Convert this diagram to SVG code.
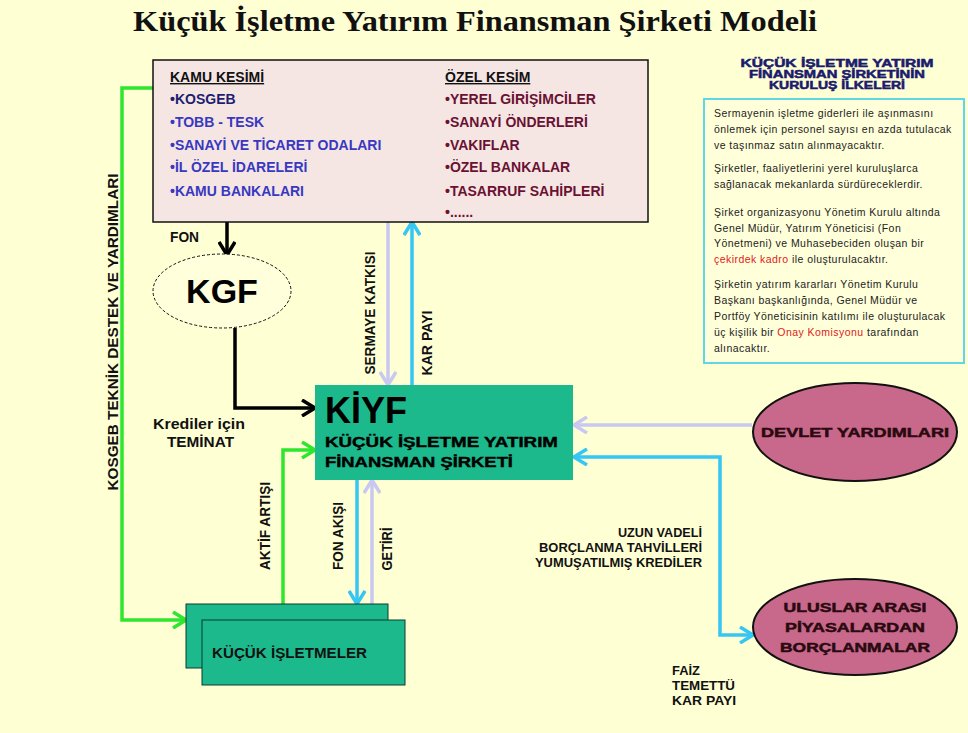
<svg xmlns="http://www.w3.org/2000/svg" width="968" height="733" viewBox="0 0 968 733">
<defs>
<style>
.b{font-family:"Liberation Sans",Arial,sans-serif;font-weight:bold}
.hv{font-family:"Liberation Sans",Arial,sans-serif;font-weight:900;stroke-width:0.5}
.lbl{font-family:"Liberation Sans",Arial,sans-serif;font-weight:bold;font-size:15px;fill:#111}
.stk{font-size:13px}
.box{font-family:"Liberation Sans",Arial,sans-serif;font-weight:bold;font-size:14px}
.kamu{fill:#3838C0}
.ozel{fill:#6A1232}
.pr{font-family:"Liberation Sans",Arial,sans-serif;font-size:10.5px;letter-spacing:0.45px;fill:#222}
.red{fill:#E02020}
.teal{fill:#1CB98C;stroke:#0B3B2C;stroke-width:1}
.oval{fill:#C8688A;stroke:#111;stroke-width:2}
.ln{fill:none;stroke-width:3.5;stroke-linejoin:miter}
.k{stroke:#000}
.lav{stroke:#C8C8F2}
.cy{stroke:#35C6F4}
.gr{stroke:#2EE62E}
</style>
<marker id="mk" viewBox="0 0 16 18" refX="15" refY="9" markerWidth="16" markerHeight="18" markerUnits="userSpaceOnUse" orient="auto-start-reverse"><path d="M2,1 L15,9 L2,17" fill="none" stroke="#000" stroke-width="3.5"/></marker>
<marker id="ml" viewBox="0 0 16 18" refX="15" refY="9" markerWidth="16" markerHeight="18" markerUnits="userSpaceOnUse" orient="auto-start-reverse"><path d="M2,1 L15,9 L2,17" fill="none" stroke="#C8C8F2" stroke-width="3.5"/></marker>
<marker id="mc" viewBox="0 0 16 18" refX="15" refY="9" markerWidth="16" markerHeight="18" markerUnits="userSpaceOnUse" orient="auto-start-reverse"><path d="M2,1 L15,9 L2,17" fill="none" stroke="#35C6F4" stroke-width="3.5"/></marker>
<marker id="mg" viewBox="0 0 16 18" refX="15" refY="9" markerWidth="16" markerHeight="18" markerUnits="userSpaceOnUse" orient="auto-start-reverse"><path d="M2,1 L15,9 L2,17" fill="none" stroke="#2EE62E" stroke-width="3.5"/></marker>
</defs>
<rect x="0" y="0" width="968" height="733" fill="#FFFFD4"/>

<text x="475" y="31" text-anchor="middle" font-family="'Liberation Serif','Times New Roman',serif" font-weight="bold" font-size="30" fill="#111" textLength="684" lengthAdjust="spacingAndGlyphs">Küçük İşletme Yatırım Finansman Şirketi Modeli</text>

<g id="connectors">
<path class="ln gr" d="M153,88 H122 V620 H186" marker-end="url(#mg)"/>
<path class="ln gr" d="M283,604 V450 H315" marker-end="url(#mg)"/>
<path class="ln k" d="M227,222 V255" marker-end="url(#mk)"/>
<path class="ln k" d="M235,328 V408 H315" marker-end="url(#mk)"/>
<path class="ln lav" d="M388,222 V385" marker-end="url(#ml)"/>
<path class="ln cy" d="M412,385 V222" marker-end="url(#mc)"/>
<path class="ln cy" d="M357,480 V604" marker-end="url(#mc)"/>
<path class="ln lav" d="M372,604 V480" marker-end="url(#ml)"/>
<path class="ln lav" d="M752,425 H574" marker-end="url(#ml)"/>
<path class="ln cy" d="M574,457 H720 V635 H753" marker-start="url(#mc)" marker-end="url(#mc)"/>
<text class="lbl" x="170" y="242" font-size="13" textLength="29" lengthAdjust="spacingAndGlyphs">FON</text>
<text class="lbl" x="153" y="429" font-size="14" textLength="92" lengthAdjust="spacingAndGlyphs">Krediler için</text>
<text class="lbl" x="167" y="447" font-size="14" textLength="67" lengthAdjust="spacingAndGlyphs">TEMİNAT</text>
<text class="lbl" text-anchor="middle" transform="translate(118,332) rotate(-90)" textLength="317" lengthAdjust="spacingAndGlyphs">KOSGEB TEKNİK DESTEK VE YARDIMLARI</text>
<text class="lbl" text-anchor="middle" transform="translate(375,313) rotate(-90)" textLength="123" lengthAdjust="spacingAndGlyphs">SERMAYE KATKISI</text>
<text class="lbl" text-anchor="middle" transform="translate(432,343) rotate(-90)" textLength="65" lengthAdjust="spacingAndGlyphs">KAR PAYI</text>
<text class="lbl" text-anchor="middle" transform="translate(270,526) rotate(-90)" textLength="88" lengthAdjust="spacingAndGlyphs">AKTİF ARTIŞI</text>
<text class="lbl" text-anchor="middle" transform="translate(343,536) rotate(-90)" textLength="68" lengthAdjust="spacingAndGlyphs">FON AKIŞI</text>
<text class="lbl" text-anchor="middle" transform="translate(392,549) rotate(-90)" textLength="43" lengthAdjust="spacingAndGlyphs">GETİRİ</text>
<text class="lbl stk" text-anchor="end" x="702" y="537" textLength="84" lengthAdjust="spacingAndGlyphs">UZUN VADELİ</text>
<text class="lbl stk" text-anchor="end" x="702" y="552" textLength="163" lengthAdjust="spacingAndGlyphs">BORÇLANMA TAHVİLLERİ</text>
<text class="lbl stk" text-anchor="end" x="702" y="567" textLength="167" lengthAdjust="spacingAndGlyphs">YUMUŞATILMIŞ KREDİLER</text>
<text class="lbl stk" x="672" y="675" textLength="28" lengthAdjust="spacingAndGlyphs">FAİZ</text>
<text class="lbl stk" x="672" y="690" textLength="63" lengthAdjust="spacingAndGlyphs">TEMETTÜ</text>
<text class="lbl stk" x="672" y="705" textLength="64" lengthAdjust="spacingAndGlyphs">KAR PAYI</text>
</g>

<g id="kesimler">
<rect x="153" y="60" width="495" height="162" fill="#F5E6E4" stroke="#111" stroke-width="1.5"/>
<text class="box" x="170" y="82" fill="#111" text-decoration="underline">KAMU KESİMİ</text>
<text class="box" x="170" y="104" fill="#1E1E70">•KOSGEB</text>
<text class="box kamu" x="170" y="127">•TOBB - TESK</text>
<text class="box kamu" x="170" y="150">•SANAYİ VE TİCARET ODALARI</text>
<text class="box kamu" x="170" y="172">•İL ÖZEL İDARELERİ</text>
<text class="box kamu" x="170" y="196">•KAMU BANKALARI</text>
<text class="box" x="445" y="82" fill="#111" text-decoration="underline">ÖZEL KESİM</text>
<text class="box ozel" x="445" y="104">•YEREL GİRİŞİMCİLER</text>
<text class="box ozel" x="445" y="127">•SANAYİ ÖNDERLERİ</text>
<text class="box ozel" x="445" y="150">•VAKIFLAR</text>
<text class="box ozel" x="445" y="172">•ÖZEL BANKALAR</text>
<text class="box ozel" x="445" y="196">•TASARRUF SAHİPLERİ</text>
<text class="box ozel" x="445" y="217">•......</text>
</g>

<g id="kgf">
<ellipse cx="222" cy="291" rx="69" ry="37" fill="#FFFFDC" stroke="#111" stroke-width="1" stroke-dasharray="3,2"/>
<text class="b" x="222" y="303" text-anchor="middle" font-size="34" fill="#000">KGF</text>
</g>

<g id="kiyf">
<rect x="315" y="385" width="258" height="95" fill="#1CB98C"/>
<text class="b" x="325" y="423" font-size="36" fill="#000">KİYF</text>
<text class="b" x="325" y="447" font-size="14" fill="#000" stroke="#000" stroke-width="0.4" textLength="233" lengthAdjust="spacingAndGlyphs">KÜÇÜK İŞLETME YATIRIM</text>
<text class="b" x="325" y="467" font-size="14" fill="#000" stroke="#000" stroke-width="0.4" textLength="188" lengthAdjust="spacingAndGlyphs">FİNANSMAN ŞİRKETİ</text>
</g>

<g id="kucuk-isletmeler">
<rect class="teal" x="186" y="604" width="202" height="64"/>
<rect class="teal" x="202" y="620" width="203" height="65"/>
<text class="b" x="212" y="658" font-size="14" fill="#111" textLength="155" lengthAdjust="spacingAndGlyphs">KÜÇÜK İŞLETMELER</text>
</g>

<g id="devlet-yardimlari">
<ellipse class="oval" cx="855" cy="432" rx="102" ry="49"/>
<text class="hv" x="855" y="437" text-anchor="middle" font-size="13" fill="#2A0A10" stroke="#2A0A10" textLength="188" lengthAdjust="spacingAndGlyphs">DEVLET YARDIMLARI</text>
</g>

<g id="uluslararasi">
<ellipse class="oval" cx="855" cy="627" rx="102" ry="48"/>
<text class="hv" x="855" y="612" text-anchor="middle" font-size="13" fill="#2A0A10" stroke="#2A0A10" textLength="143" lengthAdjust="spacingAndGlyphs">ULUSLAR ARASI</text>
<text class="hv" x="855" y="632" text-anchor="middle" font-size="13" fill="#2A0A10" stroke="#2A0A10" textLength="140" lengthAdjust="spacingAndGlyphs">PİYASALARDAN</text>
<text class="hv" x="855" y="652" text-anchor="middle" font-size="13" fill="#2A0A10" stroke="#2A0A10" textLength="150" lengthAdjust="spacingAndGlyphs">BORÇLANMALAR</text>
</g>

<g id="ilkeler">
<text class="hv" x="837" y="67" text-anchor="middle" font-size="11" fill="#1A1A6E" stroke="#1A1A6E" textLength="193" lengthAdjust="spacingAndGlyphs">KÜÇÜK İŞLETME YATIRIM</text>
<text class="hv" x="837" y="78" text-anchor="middle" font-size="11" fill="#1A1A6E" stroke="#1A1A6E" textLength="176" lengthAdjust="spacingAndGlyphs">FİNANSMAN ŞİRKETİNİN</text>
<text class="hv" x="837" y="89" text-anchor="middle" font-size="11" fill="#1A1A6E" stroke="#1A1A6E" textLength="136" lengthAdjust="spacingAndGlyphs">KURULUŞ İLKELERİ</text>
<rect x="704" y="99" width="260" height="264" fill="#FFFFDA" stroke="#5ED8E2" stroke-width="2"/>
<text class="pr" x="714" y="117">Sermayenin işletme giderleri ile aşınmasını</text>
<text class="pr" x="714" y="133">önlemek için personel sayısı en azda tutulacak</text>
<text class="pr" x="714" y="149">ve taşınmaz satın alınmayacaktır.</text>
<text class="pr" x="714" y="172">Şirketler, faaliyetlerini yerel kuruluşlarca</text>
<text class="pr" x="714" y="188">sağlanacak mekanlarda sürdüreceklerdir.</text>
<text class="pr" x="714" y="216">Şirket organizasyonu Yönetim Kurulu altında</text>
<text class="pr" x="714" y="232">Genel Müdür, Yatırım Yöneticisi (Fon</text>
<text class="pr" x="714" y="247">Yönetmeni) ve Muhasebeciden oluşan bir</text>
<text class="pr" x="714" y="263"><tspan class="red">çekirdek kadro</tspan> ile oluşturulacaktır.</text>
<text class="pr" x="714" y="288">Şirketin yatırım kararları Yönetim Kurulu</text>
<text class="pr" x="714" y="304">Başkanı başkanlığında, Genel Müdür ve</text>
<text class="pr" x="714" y="320">Portföy Yöneticisinin katılımı ile oluşturulacak</text>
<text class="pr" x="714" y="336">üç kişilik bir <tspan class="red">Onay Komisyonu</tspan> tarafından</text>
<text class="pr" x="714" y="352">alınacaktır.</text>
</g>
</svg>
